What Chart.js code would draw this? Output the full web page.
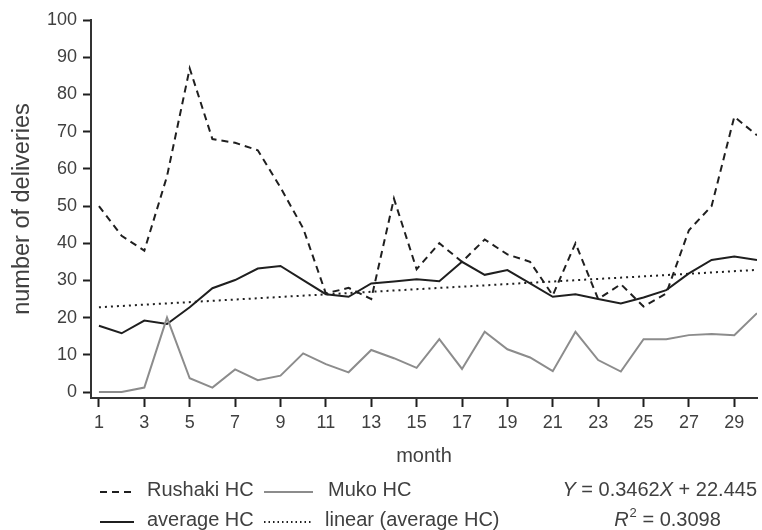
<!DOCTYPE html>
<html>
<head>
<meta charset="utf-8">
<script src="https://cdn.jsdelivr.net/npm/chart.js@4.4.1/dist/chart.umd.min.js"></script>
<style>
  html, body { margin: 0; padding: 0; background: #fff; }
  #chart { display: block; }
</style>
</head>
<body>
<canvas id="chart" width="762" height="530"></canvas>
<script>
// Monthly deliveries per health centre
const months = [1, 2, 3, 4, 5, 6, 7, 8, 9, 10, 11, 12, 13, 14, 15,
                16, 17, 18, 19, 20, 21, 22, 23, 24, 25, 26, 27, 28, 29, 30];
const rushakiHC = [50, 42, 38, 58, 87, 68, 67, 65, 55, 44, 26.5, 28, 25, 52, 33,
                   40, 35, 41, 37, 35, 26, 40, 25, 29, 23, 26.5, 43.5, 50, 74, 69];
const mukoHC = [0, 0, 1.2, 20, 3.7, 1.2, 6.1, 3.2, 4.4, 10.4, 7.5, 5.3, 11.3, 9.1, 6.5,
                14.2, 6.2, 16.2, 11.5, 9.3, 5.6, 16.2, 8.6, 5.5, 14.2, 14.2, 15.3, 15.6, 15.3, 21.2];
const averageHC = [17.8, 15.8, 19.2, 18.3, 22.8, 27.9, 30.1, 33.2, 33.9, 30.1, 26.3, 25.6, 29.2, 29.7, 30.3,
                   29.8, 35, 31.5, 32.8, 29.2, 25.6, 26.3, 25, 23.8, 25.4, 27.4, 31.9, 35.5, 36.4, 35.5];

// Linear trend of the average series
const trendSlope = 0.3462;
const trendIntercept = 22.445;
const trendR2 = 0.3098;
const trendMonths = [1, 30];

// Axis tick labels
const xTickMonths = [1, 3, 5, 7, 9, 11, 13, 15, 17, 19, 21, 23, 25, 27, 29];
const yTickValues = [0, 10, 20, 30, 40, 50, 60, 70, 80, 90, 100];

const FONT_FAMILY = '"Liberation Sans", Arial, Helvetica, sans-serif';
const TEXT_COLOR = '#404040';
const INK = '#1f1f1f';
const GREY = '#8c8c8c';

const toPoints = (xs, ys) => xs.map((m, i) => ({ x: m, y: ys[i] }));

const datasets = [
  {
    label: 'Muko HC',
    data: toPoints(months, mukoHC),
    borderColor: GREY, borderWidth: 2, borderDash: []
  },
  {
    label: 'linear (average HC)',
    data: trendMonths.map(m => ({ x: m, y: trendSlope * m + trendIntercept })),
    borderColor: INK, borderWidth: 2, borderDash: [2, 4], borderCapStyle: 'butt'
  },
  {
    label: 'average HC',
    data: toPoints(months, averageHC),
    borderColor: INK, borderWidth: 2, borderDash: []
  },
  {
    label: 'Rushaki HC',
    data: toPoints(months, rushakiHC),
    borderColor: INK, borderWidth: 2, borderDash: [7, 5]
  }
];

// Legend and trend equation drawn below the axes
const bottomLegend = {
  id: 'bottomLegend',
  afterDraw(chart) {
    const ctx = chart.ctx;
    const byLabel = {};
    chart.data.datasets.forEach(d => { byLabel[d.label] = d; });
    const font = '20px ' + FONT_FAMILY;
    const italic = 'italic 20px ' + FONT_FAMILY;
    const rows = [490, 520];
    const entries = [
      { label: 'Rushaki HC', x0: 100, x1: 134, tx: 147, y: rows[0] },
      { label: 'Muko HC', x0: 264, x1: 313, tx: 328, y: rows[0] },
      { label: 'average HC', x0: 100, x1: 134, tx: 147, y: rows[1] },
      { label: 'linear (average HC)', x0: 264, x1: 313, tx: 325, y: rows[1] }
    ];
    ctx.save();
    ctx.textBaseline = 'middle';
    entries.forEach(e => {
      const d = byLabel[e.label];
      ctx.beginPath();
      ctx.strokeStyle = d.borderColor;
      ctx.lineWidth = d.borderWidth;
      ctx.setLineDash(d.label === 'linear (average HC)' ? [1.5, 3] : (d.borderDash || []));
      ctx.moveTo(e.x0, e.y + 2);
      ctx.lineTo(e.x1, e.y + 2);
      ctx.stroke();
      ctx.setLineDash([]);
      ctx.fillStyle = TEXT_COLOR;
      ctx.font = font;
      ctx.textAlign = 'left';
      ctx.fillText(e.label, e.tx, e.y);
    });

    // Regression equation, right-aligned
    const parts = [
      { t: 'Y', f: italic },
      { t: ' = ' + trendSlope.toFixed(4), f: font },
      { t: 'X', f: italic },
      { t: ' + ' + trendIntercept.toFixed(3), f: font }
    ];
    let total = 0;
    parts.forEach(p => { ctx.font = p.f; p.w = ctx.measureText(p.t).width; total += p.w; });
    let x = 757 - total;
    ctx.textAlign = 'left';
    parts.forEach(p => { ctx.font = p.f; ctx.fillText(p.t, x, rows[0]); x += p.w; });

    // Coefficient of determination
    ctx.font = italic;
    const rW = ctx.measureText('R').width;
    ctx.font = '13px ' + FONT_FAMILY;
    const sW = ctx.measureText('2').width;
    ctx.font = font;
    const rest = ' = ' + trendR2.toFixed(4);
    const restW = ctx.measureText(rest).width;
    let rx = 667 - (rW + sW + restW) / 2;
    ctx.font = italic;
    ctx.fillText('R', rx, rows[1]);
    rx += rW + 1;
    ctx.font = '13px ' + FONT_FAMILY;
    ctx.fillText('2', rx, rows[1] - 7);
    rx += sW;
    ctx.font = font;
    ctx.fillText(rest, rx, rows[1]);
    ctx.restore();
  }
};

const tickFont = { family: FONT_FAMILY, size: 18 };
const xTitleFont = { family: FONT_FAMILY, size: 20 };
const yTitleFont = { family: FONT_FAMILY, size: 23.5 };

new Chart(document.getElementById('chart'), {
  type: 'line',
  data: { datasets },
  options: {
    responsive: false,
    animation: false,
    events: [],
    elements: { point: { radius: 0 }, line: { tension: 0 } },
    layout: { padding: { top: 20, right: 5, bottom: 62, left: 0 } },
    plugins: { legend: { display: false }, tooltip: { enabled: false } },
    scales: {
      x: {
        type: 'linear',
        min: 0.65,
        max: 30,
        afterBuildTicks: s => { s.ticks = xTickMonths.map(v => ({ value: v })); },
        afterFit: s => { s.height = 70; },
        grid: { drawOnChartArea: false, drawTicks: true, tickLength: 9, tickWidth: 2, tickColor: INK },
        border: { display: true, color: '#333', width: 2 },
        ticks: { font: tickFont, color: TEXT_COLOR, padding: 5, maxRotation: 0, autoSkip: false,
                 callback: v => String(v) },
        title: { display: true, text: 'month', font: xTitleFont, color: TEXT_COLOR, padding: { top: 0, bottom: 0 } }
      },
      y: {
        min: -1.6,
        max: 100,
        afterBuildTicks: s => { s.ticks = yTickValues.map(v => ({ value: v })); },
        afterFit: s => { s.width = 91; },
        grid: { drawOnChartArea: false, drawTicks: true, tickLength: 8, tickWidth: 2, tickColor: INK },
        border: { display: true, color: '#333', width: 2 },
        ticks: { font: tickFont, color: TEXT_COLOR, padding: 6, callback: v => String(v) },
        title: { display: true, text: 'number of deliveries', font: yTitleFont, color: TEXT_COLOR, padding: { top: 8, bottom: 0 } }
      }
    }
  },
  plugins: [bottomLegend]
});
</script>
</body>
</html>
